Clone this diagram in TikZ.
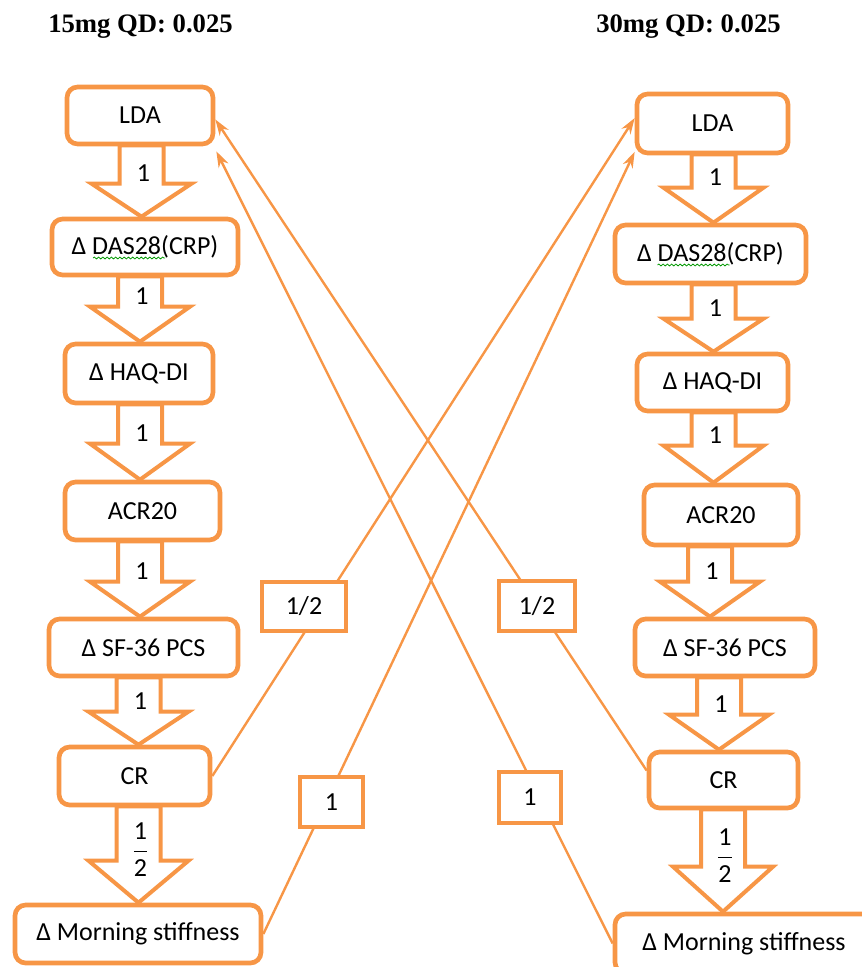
\documentclass[tikz,border=0pt]{standalone}
\usepackage{fontspec}
\setmainfont{Carlito}
\newfontfamily\titlefont{Liberation Serif}
\usetikzlibrary{calc,arrows.meta,decorations.pathmorphing}
\definecolor{accent}{HTML}{F79646}
\pgfdeclarelayer{links}
\pgfsetlayers{links,main}

\tikzset{
  stage/.style={draw=accent, line width=3.5pt, rounded corners=8pt, fill=white,
    font=\fontsize{19.5}{23}\selectfont, inner sep=0pt},
  weight/.style={draw=accent, line width=3.5pt, fill=white,
    font=\fontsize{19.5}{23}\selectfont, inner sep=0pt},
  link/.style={draw=accent, line width=1.8pt, -{Stealth[length=12pt,width=8pt]}},
  flow/.style={draw=accent, line width=3pt, fill=white, line join=miter},
  flowlabel/.style={font=\fontsize{19.5}{23}\selectfont, inner sep=0pt},
  heading/.style={font=\titlefont\bfseries\fontsize{20}{24}\selectfont},
  squiggle/.style={draw=green!60!black, line width=0.6pt, decorate,
    decoration={snake, amplitude=0.7pt, segment length=3.2pt}}
}

% stacked one-half label
\newcommand\halfmark{$\displaystyle\frac{\mbox{1}}{\mbox{2}}$}

% block arrow from the bottom of #1 to the top of #2, centred on x = #3,
% head length #4, label #5
\newcommand\flowarrow[5]{%
  \coordinate (fa-t) at (#3,0 |- #1.south);
  \coordinate (fa-p) at (#3,0 |- #2.north);
  \coordinate (fa-h) at ($(fa-p)+(0,-#4)$);
  \draw[flow] ($(fa-t)+(-22,-1)$) -- ($(fa-h)+(-22,0)$) -- ($(fa-h)+(-50,0)$)
    -- (fa-p) -- ($(fa-h)+(50,0)$) -- ($(fa-h)+(22,0)$) -- ($(fa-t)+(22,-1)$) -- cycle;
  \node[flowlabel] at ($(fa-h)+(2,-11)$) {#5};
}

\begin{document}
\begin{tikzpicture}[x=0.75pt, y=-0.75pt]
\useasboundingbox (0,0) rectangle (862,967);

% headings
\node[heading] (T1) at (140.5,27) {15mg QD: 0.025};
\node[heading] (T2) at (688.5,27) {30mg QD: 0.025};

% 15 mg column
\node[stage, minimum width=109.5pt,  minimum height=42.75pt] (L1) at (140,115.5) {LDA};
\node[stage, minimum width=139.5pt,  minimum height=42pt]    (L2) at (145,247) {Δ DAS28(CRP)};
\node[stage, minimum width=111pt,    minimum height=44.25pt] (L3) at (139,373.5) {Δ HAQ-DI};
\node[stage, minimum width=116.25pt, minimum height=43.5pt]  (L4) at (142.5,511) {ACR20};
\node[stage, minimum width=141.75pt, minimum height=42.75pt] (L5) at (143.5,647.5) {Δ SF-36 PCS};
\node[stage, minimum width=113.25pt, minimum height=43.5pt]  (L6) at (134.5,776) {CR};
\node[stage, minimum width=184.5pt,  minimum height=43.5pt]  (L7) at (138,934) {Δ Morning stiffness};

% 30 mg column
\node[stage, minimum width=113.25pt, minimum height=44.25pt] (R1) at (712.5,123.5) {LDA};
\node[stage, minimum width=143.25pt, minimum height=43.5pt]  (R2) at (710.5,254) {Δ DAS28(CRP)};
\node[stage, minimum width=113.25pt, minimum height=42.75pt] (R3) at (712.5,382.5) {Δ HAQ-DI};
\node[stage, minimum width=115.5pt,  minimum height=45pt]    (R4) at (721,515) {ACR20};
\node[stage, minimum width=135pt,    minimum height=42.75pt] (R5) at (725,647.5) {Δ SF-36 PCS};
\node[stage, minimum width=111.75pt, minimum height=42pt]    (R6) at (723.5,780) {CR};
\node[stage, minimum width=193.5pt,  minimum height=44.25pt] (R7) at (744,943.5) {Δ Morning stiffness};

% spelling marks under DAS28
\draw[squiggle] ($(L2.center)+(-52,11)$) -- ($(L2.center)+(20,11)$);
\draw[squiggle] ($(R2.center)+(-53,11)$) -- ($(R2.center)+(19,11)$);

% weights on the cross links
\node[weight, minimum width=63pt,   minimum height=36.75pt] (W1) at (304,606.5) {1/2};
\node[weight, minimum width=47.25pt, minimum height=37.5pt] (W2) at (331.5,802) {1};
\node[weight, minimum width=57pt,   minimum height=37.5pt]  (W3) at (537,606) {1/2};
\node[weight, minimum width=46.5pt, minimum height=38.25pt] (W4) at (530,797.5) {1};

% cross links between the columns
\begin{pgfonlayer}{links}
  \draw[link] (L6.east) -- (R1.176);
  \draw[link] (L7.east) -- (R1.200);
  \draw[link] (R6.173) -- (L1.-3);
  \draw[link] (R7.west) -- ($(L1.south east)+(1,5)$);
\end{pgfonlayer}

% block arrows, 15 mg
\flowarrow{L1}{L2}{141.5}{33}{1}
\flowarrow{L2}{L3}{140}{35}{1}
\flowarrow{L3}{L4}{140}{36}{1}
\flowarrow{L4}{L5}{140}{35}{1}
\flowarrow{L5}{L6}{138.5}{33}{1}
\flowarrow{L6}{L7}{138.5}{42}{\halfmark}

% block arrows, 30 mg
\flowarrow{R1}{R2}{713.5}{35}{1}
\flowarrow{R2}{R3}{713.5}{33}{1}
\flowarrow{R3}{R4}{713.5}{37}{1}
\flowarrow{R4}{R5}{710}{35}{1}
\flowarrow{R5}{R6}{719}{35}{1}
\flowarrow{R6}{R7}{723}{45}{\halfmark}
\end{tikzpicture}
\end{document}
